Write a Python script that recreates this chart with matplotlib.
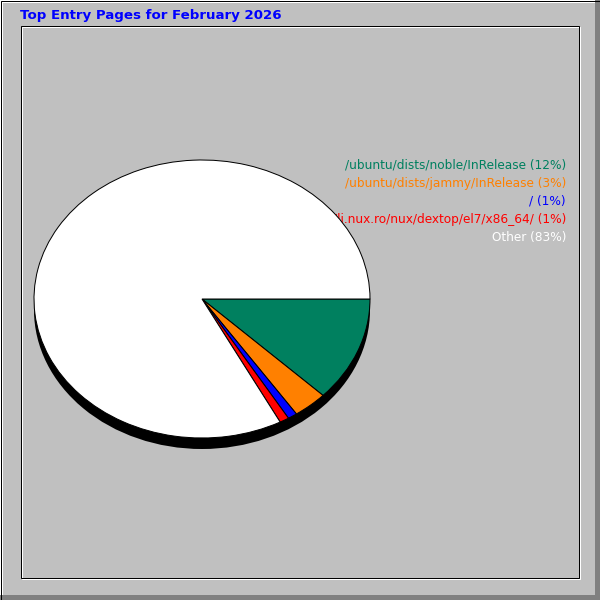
import matplotlib
matplotlib.use("Agg")
import matplotlib.pyplot as plt
from matplotlib import patches

# ---- data ----
title = "Top Entry Pages for February 2026"
pages = ["/ubuntu/dists/noble/InRelease", "/ubuntu/dists/jammy/InRelease", "/",
         "/li.nux.ro/nux/dextop/el7/x86_64/", "Other"]
shares = [12.2, 3.3, 0.9, 0.9, 82.7]
labels_pct = [12, 3, 1, 1, 83]
colors = ["#00805F", "#FF8000", "#0000FF", "#FF0000", "#FFFFFF"]

W = H = 600
px = 0.72  # one pixel in points at 100 dpi

fig = plt.figure(figsize=(6, 6), dpi=100)
fig.patch.set_facecolor("#C0C0C0")

# ---- frame (pixel coordinates) ----
bg = fig.add_axes([0, 0, 1, 1])
bg.set_xlim(0, W)
bg.set_ylim(H, 0)
bg.axis("off")

# bevel: white top/left, gray bottom/right
bg.add_patch(patches.Rectangle((0, 0), W, 3, color="white", lw=0))
bg.add_patch(patches.Rectangle((0, 0), 3, H, color="white", lw=0))
bg.add_patch(patches.Rectangle((0, H - 5), W, 5, color="#808080", lw=0))
bg.add_patch(patches.Rectangle((W - 5, 0), 5, H, color="#808080", lw=0))
bg.add_patch(patches.Rectangle((0.5, 0.5), W - 1, H - 1, fill=False,
                               ec="black", lw=px))
# inner frame
bg.add_patch(patches.Rectangle((21.5, 26.5), 558, 552, fill=False,
                               ec="white", lw=px))
bg.add_patch(patches.Rectangle((20.5, 25.5), 558, 552, fill=False,
                               ec="black", lw=px))

bg.text(20, 15, title, color="#0000FF", fontsize=9.65, fontweight="bold",
        ha="left", va="center")

# ---- pie (ellipse) ----
cx, cy, rx, ry, shadow = 202, 299, 168, 139, 11
pie_ax = fig.add_axes([(cx - rx) / W, (H - cy - ry) / H, 2 * rx / W, 2 * ry / H])
pie_ax.add_patch(patches.Circle((0, -shadow / ry), 1, color="black",
                                lw=0, clip_on=False, zorder=0))
wedges, _ = pie_ax.pie(shares, colors=colors, startangle=0, counterclock=False,
                       wedgeprops=dict(edgecolor="black", linewidth=px))
for w in wedges:
    w.set_clip_on(False)
pie_ax.set_aspect("auto")
pie_ax.set_xlim(-1, 1)
pie_ax.set_ylim(-1, 1)
pie_ax.axis("off")

# ---- legend ----
text_colors = ["#00805F", "#FF8000", "#0000FF", "#FF0000", "#FFFFFF"]
for i, (p, v) in enumerate(zip(pages, labels_pct)):
    bg.text(566, 165 + i * 18, f"{p} ({v}%)", color=text_colors[i],
            fontsize=8.75, ha="right", va="center")

fig.savefig("out.png", dpi=100, facecolor=fig.get_facecolor())
